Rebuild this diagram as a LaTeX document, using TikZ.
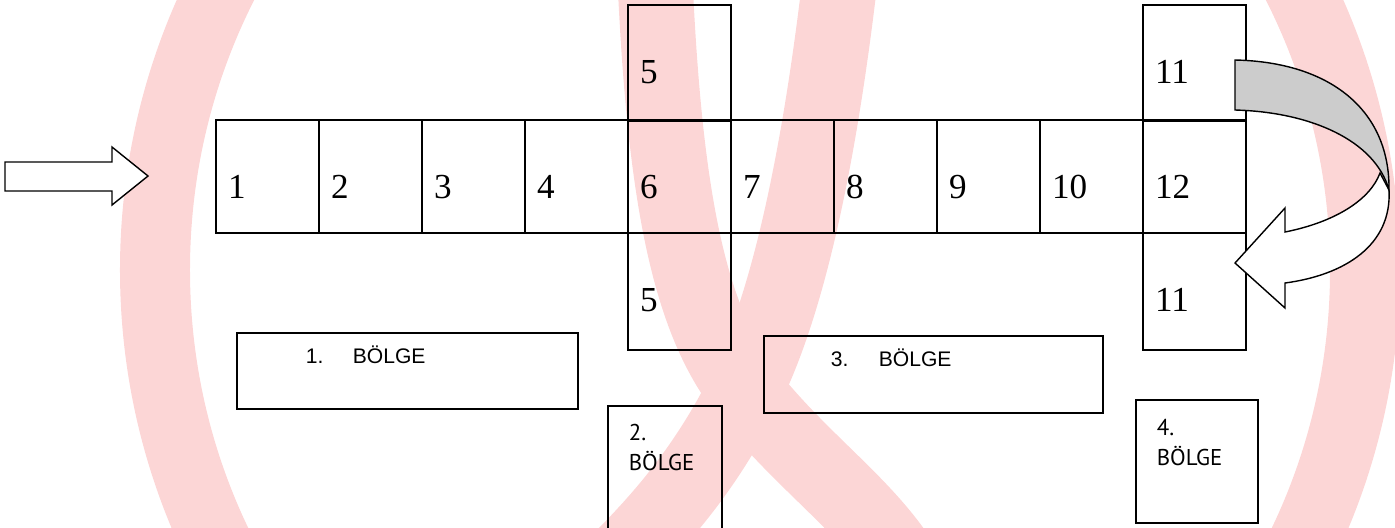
\documentclass[tikz,border=0pt]{standalone}
\usepackage{fontspec}
\usepackage{tikz}
\usetikzlibrary{positioning}
\newfontfamily\serifnum{Liberation Serif}
\newfontfamily\arialtxt{Liberation Sans}
\newfontfamily\comictxt{PT Sans}
\definecolor{ribbon}{RGB}{252,214,214}

\begin{document}
\begin{tikzpicture}[x=0.2mm, y=-0.2mm, node distance=2.06cm]
    \tikzstyle{cell} = [rectangle, draw, line width=1.2pt, minimum width=2.06cm, text width=1.58cm, inner xsep=0.24cm, inner ysep=0pt, align=left, text height=1.56cm, text depth=0.7cm, font=\serifnum\fontsize{20}{24}\selectfont]
    \tikzstyle{zone} = [rectangle, draw, line width=1pt, inner ysep=0pt, align=left, anchor=north west, font=\arialtxt\fontsize{12}{14}\selectfont]
    \tikzstyle{smallzone} = [zone, font=\comictxt\fontsize{13}{17}\selectfont]
    \tikzstyle{blockarrow} = [line width=0.8pt, line join=miter]

    \useasboundingbox (0,0) rectangle (1395,527);
    \clip (0,0) rectangle (1395,527);

    % watermark in the background
    \draw [ribbon, line width=1.4cm] (760,270) ellipse [x radius=12.1cm, y radius=12.4cm];
    \draw [ribbon, line width=1.5cm] (655,-20) .. controls (665,200) and (690,320) .. (745,390) .. controls (800,460) and (860,500) .. (900,560);
    \draw [ribbon, line width=1.5cm] (840,-20) .. controls (820,150) and (790,300) .. (745,390) .. controls (710,460) and (670,510) .. (620,560);

    % the strip
    \node [cell] (c1) at (267.5,176.5) {1};
    \node [cell, right of=c1] (c2) {2};
    \node [cell, right of=c2] (c3) {3};
    \node [cell, right of=c3] (c4) {4};
    \node [cell, right of=c4] (c6) {6};
    \node [cell, right of=c6] (c7) {7};
    \node [cell, right of=c7] (c8) {8};
    \node [cell, right of=c8] (c9) {9};
    \node [cell, right of=c9] (c10) {10};
    \node [cell, right of=c10] (c12) {12};
    \node [cell, above of=c6, node distance=2.27cm, text depth=0.76cm] (c5up) {5};
    \node [cell, below of=c6, node distance=2.3cm, text depth=0.78cm] (c5down) {5};
    \node [cell, above of=c12, node distance=2.27cm, text depth=0.76cm] (c11up) {11};
    \node [cell, below of=c12, node distance=2.3cm, text depth=0.78cm] (c11down) {11};

    % zones
    \node [zone, text width=4.06cm, inner xsep=1.38cm, text height=0.62cm, text depth=0.9cm] (z1) at (236,332) {\makebox[0.94cm][l]{1.}BÖLGE};
    \node [smallzone, text width=1.44cm, inner xsep=0.42cm, text height=0.7cm, text depth=2.1cm] (z2) at (607,405) {2.\\BÖLGE};
    \node [zone, text width=4.1cm, inner xsep=1.34cm, text height=0.62cm, text depth=0.92cm] (z3) at (763,335) {\makebox[0.96cm][l]{3.}BÖLGE};
    \node [smallzone, text width=1.6cm, inner xsep=0.42cm, text height=0.72cm, text depth=1.74cm] (z4) at (1135,399) {4.\\BÖLGE};

    % entry arrow
    \draw [blockarrow, fill=white] (5,162) -- (112,162) -- (112,147) -- (148,176) -- (112,205) -- (112,191) -- (5,191) -- cycle;

    % turning arrow
    \draw [blockarrow, fill=white] (1389,190) .. controls (1392,245) and (1345,275) .. (1285,283) -- (1285,308) -- (1235,263) -- (1285,208) -- (1285,232) .. controls (1335,222) and (1370,200) .. (1380,173) -- cycle;
    \draw [blockarrow, fill=black!20] (1235,60) .. controls (1330,62) and (1390,110) .. (1389,190) .. controls (1375,140) and (1310,112) .. (1235,110) -- cycle;
\end{tikzpicture}
\end{document}
